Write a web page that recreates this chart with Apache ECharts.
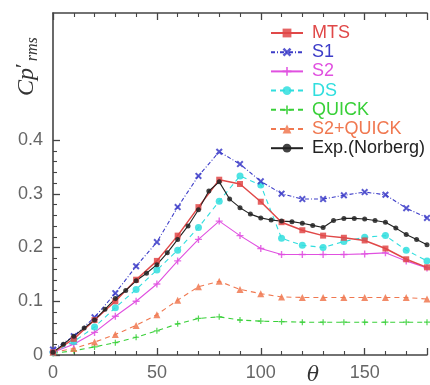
<!DOCTYPE html>
<html>
<head>
<meta charset="utf-8">
<script src="https://cdn.jsdelivr.net/npm/echarts@6/dist/echarts.min.js"></script>
<style>
  html, body {margin: 0; padding: 0; background: #fff;}
  #chart {width: 430px; height: 385px;}
</style>
</head>
<body>
<div id="chart"></div>
<script>
// angle theta (deg) for the simulations, one point every 10 deg
const theta10 = [0, 10, 20, 30, 40, 50, 60, 70, 80, 90, 100, 110, 120, 130, 140, 150, 160, 170, 180];
// experiment is sampled every 5 deg
const theta5 = [0, 5, 10, 15, 20, 25, 30, 35, 40, 45, 50, 55, 60, 65, 70, 75, 80, 85, 90,
  95, 100, 105, 110, 115, 120, 125, 130, 135, 140, 145, 150, 155, 160, 165, 170, 175, 180];

const mts = [0.005, 0.03, 0.065, 0.10, 0.14, 0.175, 0.222, 0.275, 0.326, 0.318, 0.285, 0.247, 0.232, 0.222, 0.218, 0.213, 0.198, 0.178, 0.163];
const s1 = [0.01, 0.035, 0.07, 0.115, 0.165, 0.21, 0.275, 0.333, 0.378, 0.355, 0.323, 0.30, 0.29, 0.29, 0.297, 0.303, 0.298, 0.273, 0.255];
const s2 = [0.005, 0.02, 0.042, 0.072, 0.1, 0.132, 0.175, 0.215, 0.249, 0.222, 0.198, 0.187, 0.187, 0.187, 0.187, 0.188, 0.19, 0.175, 0.162];
const ds = [0.005, 0.025, 0.052, 0.088, 0.122, 0.158, 0.195, 0.237, 0.286, 0.333, 0.316, 0.217, 0.204, 0.2, 0.211, 0.219, 0.222, 0.195, 0.175];
const quick = [0.003, 0.008, 0.015, 0.023, 0.033, 0.045, 0.058, 0.068, 0.071, 0.065, 0.063, 0.062, 0.061, 0.061, 0.061, 0.061, 0.061, 0.061, 0.061];
const s2quick = [0.005, 0.012, 0.024, 0.038, 0.055, 0.075, 0.102, 0.127, 0.137, 0.122, 0.114, 0.108, 0.107, 0.107, 0.107, 0.107, 0.107, 0.107, 0.104];
const expNorberg = [0.005, 0.02, 0.035, 0.05, 0.065, 0.085, 0.105, 0.12, 0.138, 0.152, 0.168, 0.19, 0.215, 0.24, 0.27, 0.305, 0.322, 0.29, 0.274,
  0.262, 0.255, 0.251, 0.249, 0.248, 0.245, 0.241, 0.237, 0.25, 0.254, 0.254, 0.253, 0.25, 0.247, 0.236, 0.224, 0.215, 0.205];

const yTicks = [0, 0.1, 0.2, 0.3, 0.4];
const xTickLabels = [0, 50, 100, 150];

const FONT = 'Liberation Sans';
const AXIS = '#444';
const LABEL = '#666';

const X_MARK = 'path://M2,0L5,3L8,0L10,2L7,5L10,8L8,10L5,7L2,10L0,8L3,5L0,2Z';
const PLUS_MARK = 'path://M4,0H6V4H10V6H6V10H4V6H0V4H4Z';

const chart = echarts.init(document.getElementById('chart'));

const pairs = (xs, ys) => xs.map((x, i) => [x, ys[i]]);

function line(name, xs, ys, color, type, symbol, size, width) {
  return {
    name,
    type: 'line',
    xAxisIndex: 0,
    yAxisIndex: 0,
    data: pairs(xs, ys),
    symbol,
    symbolSize: size,
    color,
    itemStyle: {color, opacity: 0.85},
    lineStyle: {color, width: width || 1.1, type},
    emphasis: {disabled: true},
    animation: false
  };
}

const legendColors = {
  'MTS': '#e04848',
  'S1': '#3c3cc8',
  'S2': '#e050e0',
  'DS': '#30dede',
  'QUICK': '#38d038',
  'S2+QUICK': '#f07850',
  'Exp.(Norberg)': '#222'
};

const axisTicks = {
  show: true,
  inside: true,
  length: 7,
  lineStyle: {color: AXIS, width: 1.3}
};
const minorTicks = {
  show: true,
  splitNumber: 5,
  length: 4,
  lineStyle: {color: AXIS, width: 1.1}
};

chart.setOption({
  backgroundColor: '#fff',
  textStyle: {fontFamily: FONT},
  grid: [
    {left: 53, right: -7, top: 13, bottom: 30},
    {left: 53, right: -7, top: 140, bottom: 30}
  ],
  legend: {
    orient: 'vertical',
    left: 265,
    top: 19,
    itemWidth: 32,
    itemHeight: 11,
    itemGap: 1.2,
    textStyle: {fontSize: 18, lineHeight: 18, fontFamily: FONT, padding: [0, 0, 0, 4]},
    data: Object.keys(legendColors).map(n => ({name: n, textStyle: {color: legendColors[n]}}))
  },
  xAxis: [
    {
      type: 'value', gridIndex: 0, position: 'bottom', min: 0, max: 180, interval: 50,
      axisLine: {show: true, lineStyle: {color: AXIS, width: 1.6}},
      axisTick: axisTicks, minorTick: minorTicks,
      axisLabel: {
        color: LABEL, fontSize: 18, margin: 9, fontFamily: FONT,
        formatter: v => (xTickLabels.includes(v) ? String(v) : '')
      },
      splitLine: {show: false}
    },
    {
      type: 'value', gridIndex: 0, position: 'top', min: 0, max: 180, interval: 50,
      axisLine: {show: true, onZero: false, lineStyle: {color: AXIS, width: 1.6}},
      axisTick: axisTicks, minorTick: minorTicks,
      axisLabel: {show: false},
      splitLine: {show: false}
    },
    {type: 'value', gridIndex: 1, min: 0, max: 180, show: false}
  ],
  yAxis: [
    {
      type: 'value', gridIndex: 0, min: 0, max: 0.636,
      axisLine: {show: true, onZero: false, lineStyle: {color: AXIS, width: 1.6}},
      axisTick: {show: false}, axisLabel: {show: false},
      splitLine: {show: false}
    },
    {
      type: 'value', gridIndex: 1, min: 0, max: 0.4, interval: 0.1,
      axisLine: {show: false},
      axisTick: axisTicks, minorTick: minorTicks,
      axisLabel: {
        color: LABEL, fontSize: 18, margin: 10, fontFamily: FONT,
        formatter: v => {
          const t = yTicks.find(k => Math.abs(k - v) < 1e-6);
          return t === undefined ? '' : String(t);
        }
      },
      splitLine: {show: false}
    }
  ],
  graphic: [
    {
      type: 'text', left: 307, top: 366,
      style: {text: 'θ', font: 'italic 20px "DejaVu Serif"', fill: '#333'}
    },
    {
      type: 'text', x: 13, y: 96, rotation: Math.PI / 2,
      style: {
        text: '{a|Cp}{b|\u2032}{c|rms}',
        rich: {
          a: {font: 'italic 24px "Liberation Serif"', fill: '#333', lineHeight: 28, verticalAlign: 'middle'},
          b: {font: '22px "Liberation Serif"', fill: '#333', lineHeight: 28, verticalAlign: 'top', padding: [0, 2, 0, 0]},
          c: {font: 'italic 16px "Liberation Serif"', fill: '#333', lineHeight: 28, verticalAlign: 'bottom'}
        }
      }
    }
  ],
  series: [
    line('QUICK', theta10, quick, '#38d038', [5, 4], PLUS_MARK, 6),
    line('S2+QUICK', theta10, s2quick, '#f07850', [5, 4], 'triangle', 7),
    line('S2', theta10, s2, '#e050e0', 'solid', PLUS_MARK, 7),
    line('DS', theta10, ds, '#30dede', [5, 4], 'circle', 7),
    line('S1', theta10, s1, '#3c3cc8', [4, 2, 1, 2], X_MARK, 7),
    line('MTS', theta10, mts, '#e04848', 'solid', 'rect', 6, 1.5),
    line('Exp.(Norberg)', theta5, expNorberg, '#222', 'solid', 'circle', 5)
  ]
});
</script>
</body>
</html>
